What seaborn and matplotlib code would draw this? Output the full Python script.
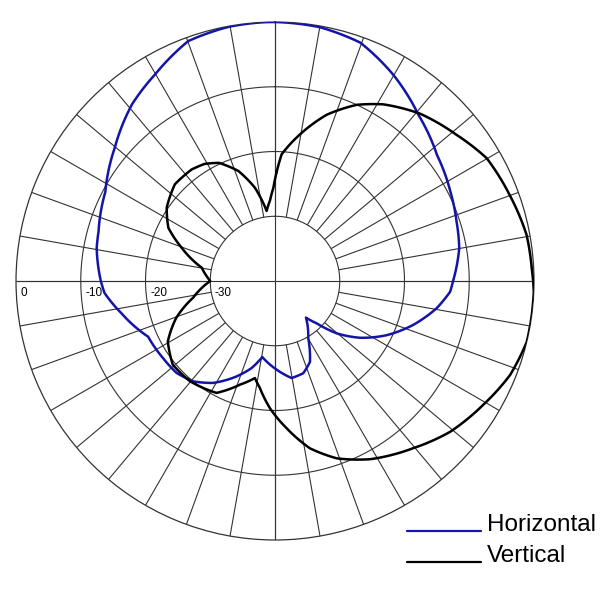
import numpy as np
import pandas as pd
import matplotlib
matplotlib.use('Agg')
import matplotlib.pyplot as plt
import seaborn as sns
from matplotlib.lines import Line2D

# 水平偏波 (角度: 上が0度, 時計回り / レベル dB)
horiz_deg = [0, 10.1, 19.7, 29.9, 40.8, 52.1, 63, 71.9, 79.9, 90, 93.5, 99.6, 107.6, 115.8,
             123.7, 130.3, 135.4, 139.8, 149.8, 156.6, 163, 170.3, 178.9, 189.5, 195, 202,
             211.2, 219.2, 227, 235.5, 246.3, 258, 266, 270, 280.4, 285.6, 297.7, 309.8,
             321, 329.9, 340.1, 349.6, 357.1, 360]
horiz_db = [0, -0.2, -0.9, -3.3, -6.1, -8.3, -9.6, -10.5, -11.1, -12.5, -12.9, -14.7, -17.6, -20.8,
            -24.2, -27.5, -30.8, -32.6, -29.8, -26.4, -25.1, -24.8, -26.3, -28.1, -26.1, -24.1,
            -21.6, -20.0, -19.2, -19.0, -18.6, -15.8, -13.6, -13.1, -12.0, -11.7, -10.4, -7.8,
            -4.9, -3.1, -0.6, -0.1, 0, 0]

# 垂直偏波
vert_deg = [0.9, 3, 5, 10.7, 17.3, 24.9, 31.5, 40.9, 51.2, 59.9, 69.9, 79.6, 87.2, 92.4, 103.6,
            111.8, 120.8, 130.7, 140.4, 151.9, 160.8, 168.2, 175.5, 182.2, 188, 191.7, 198.7,
            207.6, 220.4, 230.7, 240.6, 249.5, 258.5, 270, 280.3, 289.6, 296.5, 304.1, 314,
            323.3, 329, 334.6, 341.6, 347.9, 353.2, 356.5, 359, 360.9]
vert_db = [-23.1, -20.4, -19.4, -16.5, -13.1, -10.0, -8.0, -5.8, -4.0, -2.2, -1.4, -0.5, -0.3, 0, 0,
           -0.9, -2.6, -4.3, -6.5, -8.8, -11.0, -13.6, -17.2, -20.3, -23.3, -24.7, -23.1,
           -20.5, -19.7, -19.6, -21.0, -23.7, -27.1, -30.0, -28.5, -24.7, -21.6, -19.8, -18.5,
           -18.5, -18.9, -19.8, -22.1, -25.3, -29.1, -27.5, -25.6, -23.1]

ring_levels = [-30, -20, -10, 0]
ring_labels = ['-30', '-20', '-10', '0']
series_names = ['Horizontal', 'Vertical']
series_colors = ['#1414a8', '#000000']

sns.set_style('white')
plt.rcParams['font.family'] = ['Liberation Sans', 'DejaVu Sans']
plt.rcParams['text.color'] = 'black'

fig = plt.figure(figsize=(6, 6), dpi=100)
ax = fig.add_axes([0.0267, 0.1, 0.8633, 0.8633], projection='polar')
ax.set_theta_zero_location('N')
ax.set_theta_direction(-1)
ax.set_ylim(-40, 0)
ax.grid(False)
ax.set_xticks([])
ax.set_yticks([])
ax.spines['polar'].set_color('#333333')
ax.spines['polar'].set_linewidth(0.9)

grid_kw = dict(color='#333333', lw=0.8, zorder=1)

# 同心円
circ = np.linspace(0, 2 * np.pi, 721)
for lv in ring_levels[:-1]:
    ax.plot(circ, np.full_like(circ, lv), **grid_kw)

# 放射線 (10度ごと、-30dBより外側)
spokes = np.deg2rad(np.arange(0, 360, 10))
ax.vlines(spokes, -30, 0, **grid_kw)
# 中心を通る十字線
ax.vlines(np.deg2rad([0, 90, 180, 270]), -40, 0, **grid_kw)

# 目盛りラベル
for lv, lab in zip(ring_levels, ring_labels):
    ax.annotate(lab, xy=(np.deg2rad(270), lv), xytext=(3.3, -4.3),
                textcoords='offset points', ha='left', va='top', fontsize=8.5,
                color='black', annotation_clip=False)

# パターン
df_h = pd.DataFrame({'theta': np.deg2rad(horiz_deg), 'db': horiz_db})
df_v = pd.DataFrame({'theta': np.deg2rad(vert_deg), 'db': vert_db})
n_before = len(ax.lines)
sns.lineplot(data=df_h, x='theta', y='db', sort=False, estimator=None, ax=ax,
             color=series_colors[0], linewidth=1.8, zorder=3)
sns.lineplot(data=df_v, x='theta', y='db', sort=False, estimator=None, ax=ax,
             color=series_colors[1], linewidth=1.8, zorder=4)
# 極座標で線分を弧として描く
for ln in ax.lines[n_before:]:
    ln.get_path()._interpolation_steps = 20
ax.set_xlabel('')
ax.set_ylabel('')
ax.set_ylim(-40, 0)

# 凡例
leg_y = [1 - 531 / 600, 1 - 562 / 600]
for name, col, y in zip(series_names, series_colors, leg_y):
    fig.add_artist(Line2D([407 / 600, 481 / 600], [y, y], color=col, lw=1.6,
                          transform=fig.transFigure))
    fig.text(487 / 600, y, name, fontsize=17.5, ha='left', va='baseline', color='black')

fig.savefig('out.png', dpi=100, facecolor='white')
